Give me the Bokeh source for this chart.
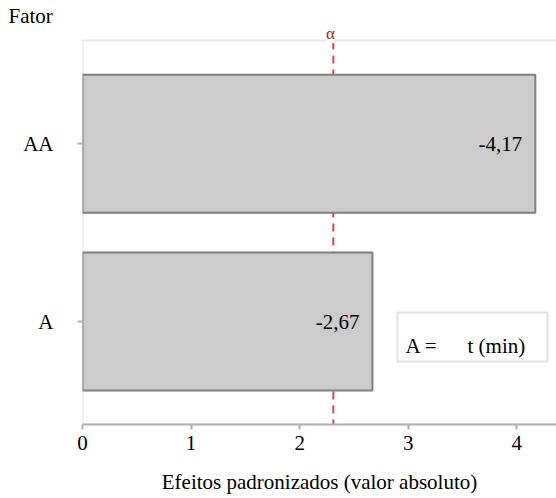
from bokeh.plotting import figure
from bokeh.models import (Range1d, FixedTicker, Span, Label, BoxAnnotation,
                          ColumnDataSource)
from bokeh.embed import file_html
from bokeh.resources import INLINE
from bokeh.core.properties import value

# ---- data ----
factors = ["A", "AA"]
effects = [2.67, 4.17]
effect_labels = ["-2,67", "-4,17"]
alpha_value = 2.31
x_ticks = [0, 1, 2, 3, 4]
x_label = "Efeitos padronizados (valor absoluto)"
y_title = "Fator"
alpha_text = "α"
legend_key = "A ="
legend_desc = "t (min)"

FONT = "Liberation Serif"
FS = "21px"
AXIS_GREY = "#b0b0b0"

y_pos = [i + 1 for i in range(len(factors))]
src = ColumnDataSource(dict(pos=y_pos, effect=effects, label=effect_labels))

p = figure(width=556, height=498, output_backend="svg", toolbar_location=None,
           y_range=Range1d(0.421, 2.654), x_range=Range1d(0, 4.365),
           min_border_left=82, min_border_right=0,
           min_border_top=27, min_border_bottom=74)
p.xgrid.visible = False
p.ygrid.visible = False
p.outline_line_color = None
p.background_fill_color = "white"
p.border_fill_color = "white"

# title "Fator" at the top left
p.title.text = y_title
p.title.align = "left"
p.title.offset = -74
p.title.standoff = 0
p.title.text_font = FONT
p.title.text_font_size = FS
p.title.text_font_style = "normal"
p.title.text_color = "black"

# critical value line (behind bars)
p.add_layout(Span(location=alpha_value, dimension="height", line_color="#e0404a",
                  line_dash="8 6", line_width=2, level="underlay"))

# plot-area outline (top, left, bottom), behind bars
p.add_layout(BoxAnnotation(left=0, right=480, top=384, bottom=0,
                           right_units="screen", top_units="screen",
                           bottom_units="screen",
                           fill_alpha=0, line_color=AXIS_GREY, line_width=2,
                           level="underlay"))

p.hbar(y="pos", left=0, right="effect", height=0.776, source=src,
       fill_color="#cccccc", line_color="#7f7f7f", line_width=2)

p.text(x="effect", y="pos", text="label", source=src, x_offset=-13,
       text_align="right", text_baseline="middle", text_font=value(FONT),
       text_font_size=FS, text_color="black")

# axes
xa = p.xaxis[0]
xa.ticker = FixedTicker(ticks=x_ticks)
xa.axis_line_color = AXIS_GREY
xa.axis_line_width = 2
xa.major_tick_line_color = AXIS_GREY
xa.major_tick_line_width = 2
xa.major_tick_out = 5
xa.major_tick_in = 0
xa.minor_tick_line_color = None
xa.major_label_text_font = FONT
xa.major_label_text_font_size = FS
xa.major_label_text_color = "black"
xa.major_label_standoff = 6
xa.axis_label = x_label
xa.axis_label_text_font = FONT
xa.axis_label_text_font_size = FS
xa.axis_label_text_font_style = "normal"
xa.axis_label_text_color = "black"
xa.axis_label_standoff = 17

ya = p.yaxis[0]
ya.ticker = FixedTicker(ticks=y_pos)
ya.major_label_overrides = {pos: name for pos, name in zip(y_pos, factors)}
ya.axis_line_color = None
ya.major_tick_line_color = AXIS_GREY
ya.major_tick_line_width = 2
ya.major_tick_out = 5
ya.major_tick_in = 0
ya.minor_tick_line_color = None
ya.major_label_text_font = FONT
ya.major_label_text_font_size = FS
ya.major_label_text_color = "black"
ya.major_label_standoff = 24

# alpha marker above the plot area
p.add_layout(Label(x=alpha_value, y=390.7, y_units="screen", text=alpha_text,
                   x_offset=-3,
                   text_font=FONT, text_font_size="17px", text_color="#b02020",
                   text_align="center", text_baseline="alphabetic",
                   background_fill_color="white"))

# legend box
p.add_layout(BoxAnnotation(left=315, right=465, top=112, bottom=63,
                           left_units="screen", right_units="screen",
                           top_units="screen", bottom_units="screen",
                           fill_color="white", fill_alpha=1,
                           line_color="#999999", line_width=2))
p.add_layout(Label(x=323, y=79, x_units="screen", y_units="screen", text=legend_key,
                   text_font=FONT, text_font_size=FS, text_color="black",
                   text_baseline="alphabetic"))
p.add_layout(Label(x=385, y=79, x_units="screen", y_units="screen", text=legend_desc,
                   text_font=FONT, text_font_size=FS, text_color="black",
                   text_baseline="alphabetic"))

open("out.html", "w").write(file_html(p, INLINE))
